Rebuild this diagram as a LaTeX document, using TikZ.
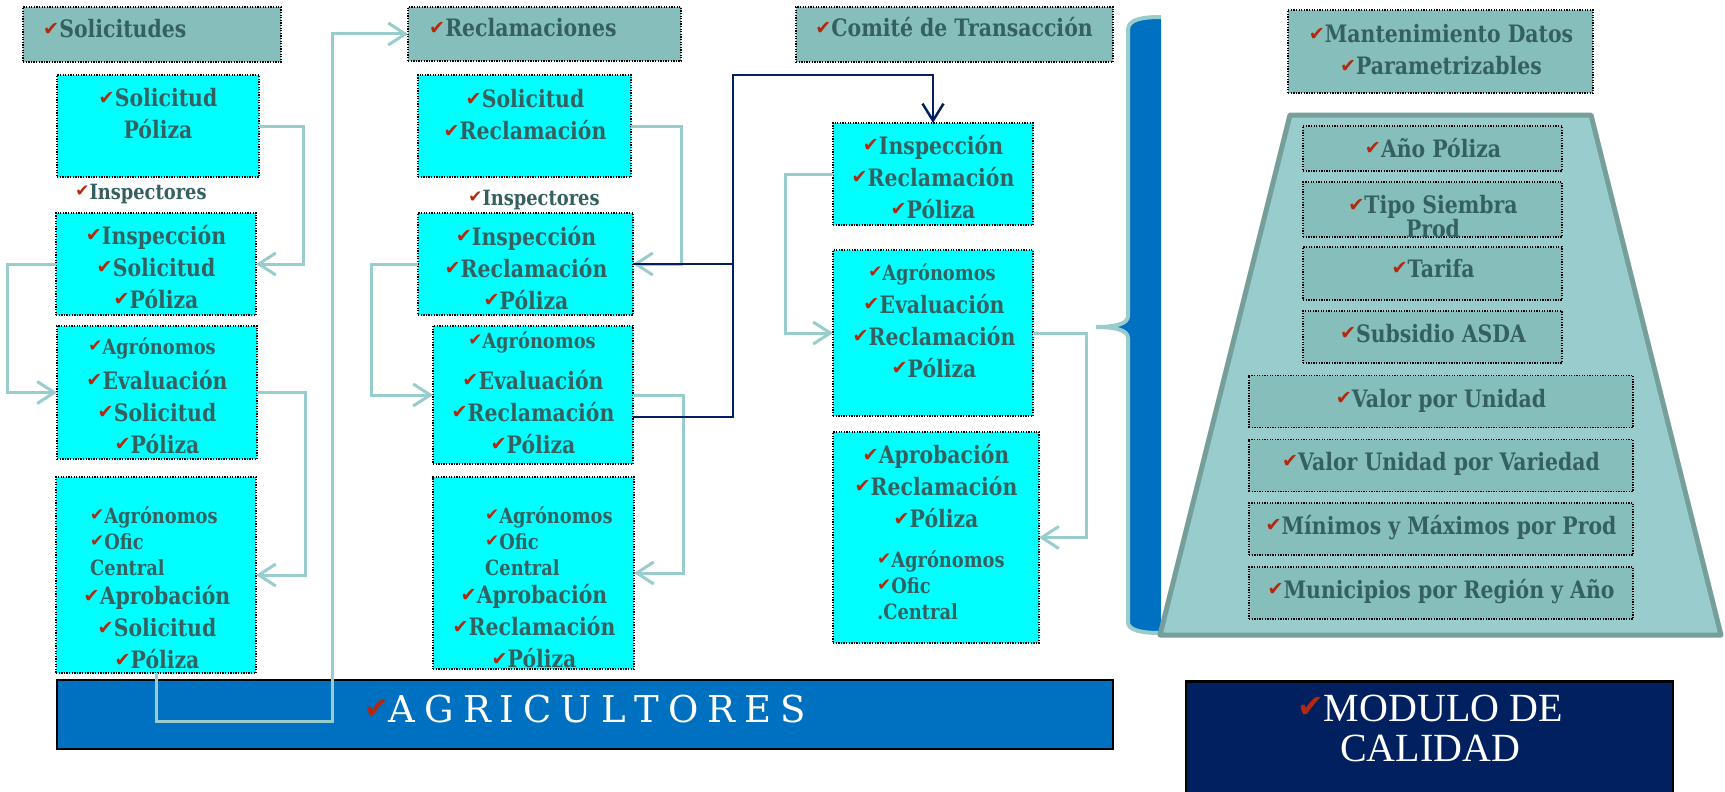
\documentclass[tikz,border=0pt]{standalone}
\usepackage{fontspec}
\setmainfont{DejaVu Serif}[FakeStretch=0.85]
\newfontfamily\ckfont{DejaVu Sans}
\newfontfamily\agrofont{DejaVu Serif}
\newfontfamily\modfont{Liberation Serif}
\usetikzlibrary{arrows.meta}
\definecolor{txtc}{RGB}{52,96,96}
\definecolor{ckred}{RGB}{180,40,14}
\definecolor{cyanfill}{RGB}{0,255,255}
\definecolor{hdrfill}{RGB}{134,190,187}
\definecolor{trapfill}{RGB}{153,204,204}
\definecolor{trapline}{RGB}{118,158,154}
\definecolor{linkc}{RGB}{153,204,204}
\definecolor{navyc}{RGB}{0,32,96}
\definecolor{barblue}{RGB}{0,112,192}
\newcommand\ck{\raisebox{.1em}{\scalebox{.8}{\ckfont\mdseries\textcolor{ckred}{✔}}}}
\begin{document}
\begin{tikzpicture}[x=1pt,y=-1pt,
  cbox/.style={draw=black,line width=1.3pt,dash pattern=on 1.3pt off 1.3pt,fill=cyanfill,inner sep=0pt,outer sep=0pt},
  hbox/.style={cbox,fill=hdrfill},
  txt/.style={text=txtc,font=\fontsize{24}{32}\selectfont\bfseries,align=center,inner sep=0pt},
  stxt/.style={txt,font=\fontsize{21}{26}\selectfont\bfseries,align=left},
  link/.style={draw=linkc,line width=3pt,-{Straight Barb[length=17pt,width=22pt]}},
  navy/.style={draw=navyc,line width=2.5pt}]
\useasboundingbox (0,0) rectangle (1725,792);
% Solicitudes
\node[hbox,minimum width=258pt,minimum height=55pt] (h1) at (152,34.5) {};
\node[txt,anchor=base west] (h1t) at (43,38) {\ck Solicitudes};
\node[cbox,minimum width=202pt,minimum height=102pt] (b11) at (158,126) {};
\node[txt,anchor=north] (t11) at (158,88) {\ck Solicitud\\Póliza};
\node[stxt,anchor=base] (i1) at (141,199) {\ck Inspectores};
\node[cbox,minimum width=200pt,minimum height=102pt] (b12) at (156,264) {};
\node[txt,anchor=north] (t12) at (156,225) {\ck Inspección\\\ck Solicitud\\\ck Póliza};
\node[cbox,minimum width=200pt,minimum height=133pt] (b13) at (157,392.5) {};
\node[stxt,anchor=base] (a13) at (152,354) {\ck Agrónomos};
\node[txt,anchor=north] (t13) at (157,370) {\ck Evaluación\\\ck Solicitud\\\ck Póliza};
\node[cbox,minimum width=200pt,minimum height=196pt] (b14) at (156,575) {};
\node[stxt,anchor=north west] (a14) at (90,506) {\ck Agrónomos\\\ck Ofic\\Central};
\node[txt,anchor=north] (t14) at (157,585) {\ck Aprobación\\\ck Solicitud\\\ck Póliza};
% Reclamaciones
\node[hbox,minimum width=273pt,minimum height=54pt] (h2) at (544.5,34) {};
\node[txt,anchor=base west] (h2t) at (429,37) {\ck Reclamaciones};
\node[cbox,minimum width=213pt,minimum height=102pt] (b21) at (524.5,126) {};
\node[txt,anchor=north] (t21) at (525,89) {\ck Solicitud\\\ck Reclamación};
\node[stxt,anchor=base] (i2) at (534,205) {\ck Inspectores};
\node[cbox,minimum width=215pt,minimum height=102pt] (b22) at (525.5,264) {};
\node[txt,anchor=north] (t22) at (526,226) {\ck Inspección\\\ck Reclamación\\\ck Póliza};
\node[cbox,minimum width=200pt,minimum height=138pt] (b23) at (533,395) {};
\node[stxt,anchor=base] (a23) at (532,348) {\ck Agrónomos};
\node[txt,anchor=north] (t23) at (533,370) {\ck Evaluación\\\ck Reclamación\\\ck Póliza};
\node[cbox,minimum width=201pt,minimum height=192pt] (b24) at (533.5,573) {};
\node[stxt,anchor=north west] (a24) at (485,506) {\ck Agrónomos\\\ck Ofic\\Central};
\node[txt,anchor=north] (t24) at (534,584) {\ck Aprobación\\\ck Reclamación\\\ck Póliza};
% Comite de Transaccion
\node[hbox,minimum width=317pt,minimum height=55pt] (h3) at (954.5,34.5) {};
\node[txt,anchor=base] (h3t) at (954,37) {\ck Comité de Transacción};
\node[cbox,minimum width=200pt,minimum height=102pt] (b31) at (933,174) {};
\node[txt,anchor=north] (t31) at (933,135) {\ck Inspección\\\ck Reclamación\\\ck Póliza};
\node[cbox,minimum width=200pt,minimum height=166pt] (b32) at (933,333) {};
\node[stxt,anchor=base] (a32) at (932,280) {\ck Agrónomos};
\node[txt,anchor=north] (t32) at (934,294) {\ck Evaluación\\\ck Reclamación\\\ck Póliza};
\node[cbox,minimum width=206pt,minimum height=211pt] (b33) at (936,537.5) {};
\node[txt,anchor=north] (t33) at (936,444) {\ck Aprobación\\\ck Reclamación\\\ck Póliza};
\node[stxt,anchor=north west] (a33) at (877,550) {\ck Agrónomos\\\ck Ofic\\.Central};
% brace
\fill[barblue] (1161,17) .. controls (1140,17) and (1128,20) .. (1128,30) -- (1128,316)
  .. controls (1128,324) and (1115,327) .. (1096,327) .. controls (1115,327) and (1128,330) .. (1128,338)
  -- (1128,622) .. controls (1128,630) and (1140,633) .. (1161,633) -- cycle;
\draw[linkc,line width=4pt] (1161,17) .. controls (1140,17) and (1128,20) .. (1128,30) -- (1128,316)
  .. controls (1128,324) and (1115,327) .. (1096,327) .. controls (1115,327) and (1128,330) .. (1128,338)
  -- (1128,622) .. controls (1128,630) and (1140,633) .. (1161,633);
% modulo de calidad
\node[hbox,minimum width=305pt,minimum height=83pt] (mant) at (1440.5,51.5) {};
\node[txt,anchor=north] (mantt) at (1441,24) {\ck Mantenimiento Datos\\\ck Parametrizables};
\draw[trapline,fill=trapfill,line width=5pt,line join=round] (1290,115) -- (1591,115) -- (1721,635) -- (1160,635) -- cycle;
\foreach \nm/\yc/\h/\bl/\txt in {ano/148.5/45/157/{\ck Año Póliza},tar/273.5/53/277/{\ck Tarifa},sub/337/52/342/{\ck Subsidio ASDA}}{
  \node[hbox,minimum width=259pt,minimum height=\h pt] (p\nm) at (1432.5,\yc) {};
  \node[txt,anchor=base] (t\nm) at (1433,\bl) {\txt};
}
\node[hbox,minimum width=259pt,minimum height=55pt] (ptipo) at (1432.5,209.5) {};
\node[txt,font=\fontsize{24}{24}\selectfont\bfseries,anchor=north] (ttipo) at (1433,195) {\ck Tipo Siembra\\Prod};
\foreach \nm/\yc/\bl/\txt in {val/401.5/407/{\ck Valor por Unidad},var/465.5/470/{\ck Valor Unidad por Variedad},
  min/529/534/{\ck Mínimos y Máximos por Prod},mun/593/598/{\ck Municipios por Región y Año}}{
  \node[hbox,minimum width=384pt,minimum height=52pt] (p\nm) at (1441,\yc) {};
  \node[txt,anchor=base] (t\nm) at (1441,\bl) {\txt};
}
\node[draw=black,line width=2.5pt,fill=navyc,minimum width=487pt,minimum height=120pt,inner sep=0pt,anchor=north] (mod) at (1429.5,680) {};
\node[text=white,font=\modfont\fontsize{40}{40}\selectfont,align=center,inner sep=0pt,anchor=north] (modt) at (1430,695) {\ck MODULO DE\\CALIDAD};
% agricultores
\node[draw=black,line width=2.5pt,fill=barblue,minimum width=1056pt,minimum height=69pt,inner sep=0pt] (agro) at (585,714.5) {};
\node[text=white,font=\agrofont\fontsize{37}{37}\selectfont,inner sep=0pt,anchor=base] (agrot) at (585,722) {\spaceskip=9pt\relax\ck A G R I C U L T O R E S};
% connectors
\coordinate (c4a) at (332,721);
\coordinate (nt) at (733,75);
\draw[link] (b11.east) -- ++(44,0) |- (b12.east);
\draw[link] (b12.west) -- ++(-49,0) |- (b13.west);
\draw[link] (b13.east) -- ++(48,0) |- (b14.east);
\draw[link] (b14.south) |- (c4a) |- (h2.west);
\draw[link] (b21.east) -- ++(50,0) |- (b22.east);
\draw[link] (b22.west) -- ++(-47,0) |- (b23.west);
\draw[link] (b23.east) -- ++(50,0) |- (b24.east);
\draw[link] (b31.west) -- ++(-48,0) |- (b32.west);
\draw[link] (b32.east) -- ++(53,0) |- (b33.east);
\draw[navy] (b22.east) -- (b22.east -| nt);
\draw[navy,-{Straight Barb[length=17pt,width=21pt]}] ([yshift=-22pt]b23.east) -| (nt) -| (b31.north);
\end{tikzpicture}
\end{document}
